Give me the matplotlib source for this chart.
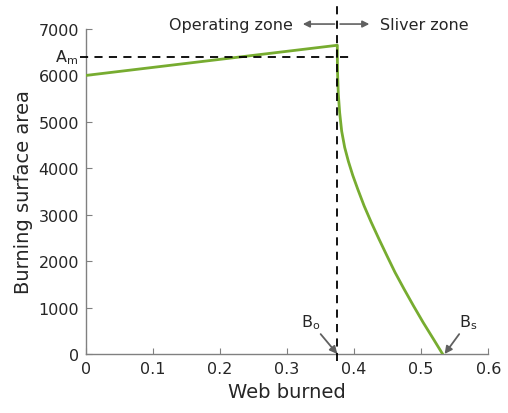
import matplotlib
matplotlib.use('Agg')
import matplotlib.pyplot as plt

# burning surface vs web burned
web = [0.0, 0.375, 0.3751, 0.3755, 0.3765, 0.3785, 0.3815, 0.3860, 0.3915, 0.3980,
       0.4055, 0.4150, 0.4255, 0.4370, 0.4489, 0.4610, 0.4745, 0.4885, 0.5030,
       0.5180, 0.532]
area = [6000, 6650, 6300, 6000, 5600, 5200, 4800, 4450, 4150, 3850,
        3550, 3190, 2840, 2480, 2120, 1760, 1400, 1040, 680,
        330, 0]

B_o = 0.375
B_s = 0.532
A_m = 6400

xticks = [0, 0.1, 0.2, 0.3, 0.4, 0.5, 0.6]
yticks = [0, 1000, 2000, 3000, 4000, 5000, 6000, 7000]

fig = plt.figure(figsize=(5.08, 4.14), dpi=100)
ax = fig.add_axes([0.169, 0.1425, 0.792, 0.785])

gray = '#808080'
txt = '#262626'

ax.plot(web, area, color='#77AC30', lw=2, zorder=3, solid_joinstyle='round')

# dashed guides
ax.plot([B_o, B_o], [-160, 7540], 'k--', lw=1.3, dashes=(4.5, 3.5), clip_on=False, zorder=4)
ax.plot([-0.008, 0.393], [A_m, A_m], 'k--', lw=1.3, dashes=(4.5, 3.5), clip_on=False, zorder=4)

ax.set_xlim(0, 0.6)
ax.set_ylim(0, 7000)
ax.set_xticks(xticks)
ax.set_xticklabels(['0', '0.1', '0.2', '0.3', '0.4', '0.5', '0.6'])
ax.set_yticks(yticks)

for s in ['top', 'right']:
    ax.spines[s].set_visible(False)
for s in ['left', 'bottom']:
    ax.spines[s].set_color(gray)
    ax.spines[s].set_linewidth(1.0)
ax.tick_params(direction='in', length=4, color=gray, labelsize=11.5, labelcolor=txt, pad=5)

ax.set_xlabel('Web burned', fontsize=14, color=txt, labelpad=4)
ax.set_ylabel('Burning surface area', fontsize=14, color=txt, labelpad=4)

# zone arrows
arr = dict(arrowstyle='-|>', color='#606060', lw=1.2, mutation_scale=10)
ax.annotate('', xy=(0.3194, 7107), xytext=(B_o, 7107), arrowprops=arr, annotation_clip=False)
ax.annotate('', xy=(0.4269, 7107), xytext=(B_o, 7107), arrowprops=arr, annotation_clip=False)
ax.text(0.309, 7107, 'Operating zone', ha='right', va='center', fontsize=11.5, color=txt, clip_on=False)
ax.text(0.439, 7107, 'Sliver zone', ha='left', va='center', fontsize=11.5, color=txt, clip_on=False)

# labels for points
ax.text(-0.011, A_m, r'A$_\mathregular{m}$', ha='right', va='center', fontsize=11.5, color=txt, clip_on=False)
arr2 = dict(arrowstyle='-|>', color='#606060', lw=1.3, mutation_scale=11, shrinkA=0, shrinkB=0)
ax.annotate(r'B$_\mathregular{o}$', xy=(B_o, 0), xytext=(0.335, 690), ha='center', va='center',
            fontsize=11.5, color=txt, arrowprops=arr2, annotation_clip=False)
ax.annotate(r'B$_\mathregular{s}$', xy=(B_s + 0.003, 0), xytext=(0.57, 690), ha='center', va='center',
            fontsize=11.5, color=txt, arrowprops=arr2, annotation_clip=False)

fig.savefig('out.png', dpi=100)
